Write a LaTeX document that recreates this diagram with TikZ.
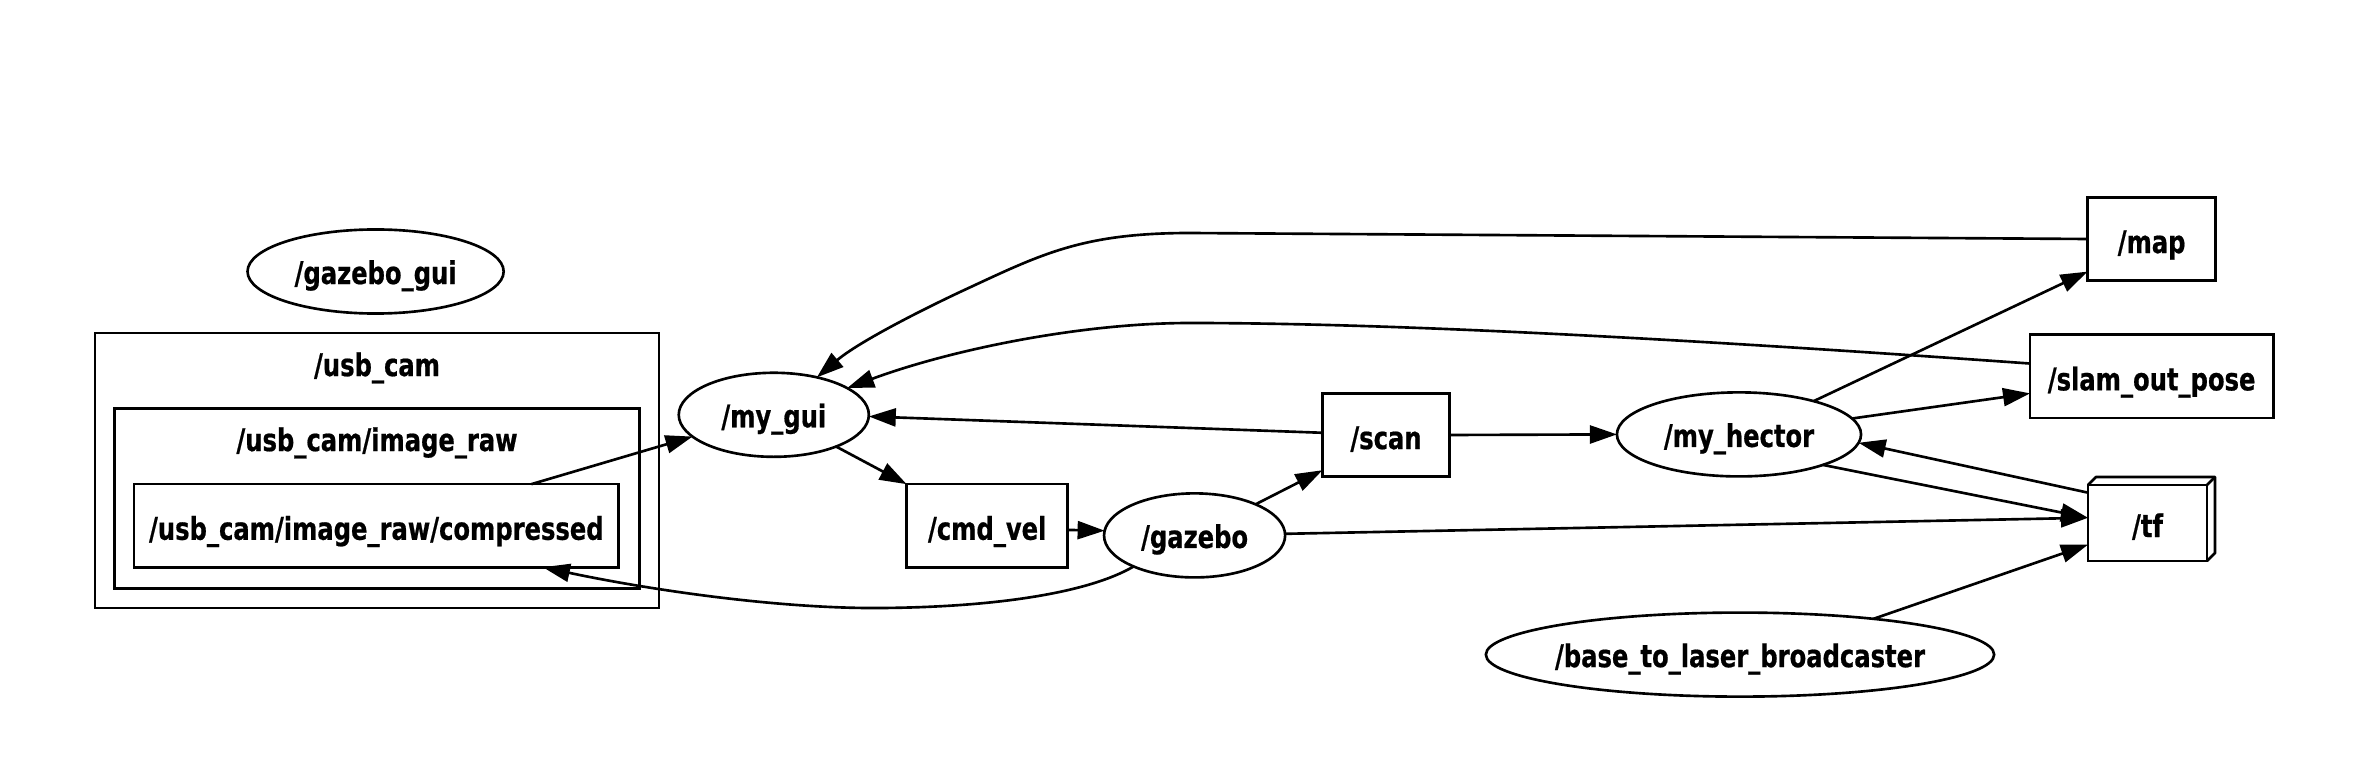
\documentclass[tikz,border=0pt]{standalone}
\usepackage{fontspec}
\setmainfont{DejaVu Sans Condensed}[FakeStretch=0.86,BoldFeatures={FakeBold=0.6}]
\usetikzlibrary{shapes.geometric,arrows.meta,calc}
\newcommand\ellipsetext[1]{\raisebox{-0.4em}[0pt][0pt]{\makebox[0pt]{#1}}}
\begin{document}
\begin{tikzpicture}[x=0.01cm,y=-0.01cm,
  font=\fontsize{8.9}{10}\selectfont\bfseries,
  every node/.style={inner sep=0pt, outer sep=0pt, text height=0.9em, text depth=0.1em},
  topic/.style={draw, line width=0.75pt, rectangle, minimum height=0.83cm},
  rosnode/.style={draw, line width=0.75pt, ellipse, minimum height=0.84cm, text height=0pt, text depth=0pt},
  cluster/.style={draw, line width=0.75pt, rectangle},
  conn/.style={line width=0.75pt, -{Triangle[length=0.27cm,width=0.18cm]}}
]
\fill[white] (0,0) rectangle (2365,782);
\useasboundingbox (0,0) rectangle (2365,782);

% clusters
\node[cluster, minimum width=5.64cm, minimum height=2.75cm] (usbcam) at (377,470.5) {};
\node (usbcamlbl) at (377,362) {/usb\_cam};
\node[cluster, minimum width=5.25cm, minimum height=1.795cm] (imageraw) at (377,498.5) {};
\node (imagerawlbl) at (377,437) {/usb\_cam/image\_raw};
\node[topic, minimum width=4.84cm] (compressed) at (376.3,525.7) {/usb\_cam/image\_raw/compressed};

% nodes
\node[rosnode, minimum width=2.56cm] (gazebogui) at (375.6,271.5) {\ellipsetext{/gazebo\_gui}};
\node[rosnode, minimum width=1.90cm] (mygui) at (773.8,414.8) {\ellipsetext{/my\_gui}};
\node[topic, minimum width=1.61cm] (cmdvel) at (987.2,525.7) {/cmd\_vel};
\node[rosnode, minimum width=1.81cm] (gazebo) at (1194.6,535.4) {\ellipsetext{/gazebo}};
\node[topic, minimum width=1.27cm] (scan) at (1386,435) {/scan};
\node[rosnode, minimum width=2.44cm] (myhector) at (1739,434.4) {\ellipsetext{/my\_hector}};
\node[topic, minimum width=1.28cm] (map) at (2151.6,239) {/map};
\node[topic, minimum width=2.43cm] (slam) at (2151.6,376.3) {/slam\_out\_pose};
\node[topic, minimum width=1.19cm, minimum height=0.76cm] (tf) at (2147.5,523) {/tf};
\draw[line width=0.75pt, line join=round] (tf.north west) -- ++(8,-8) -- ($(tf.north east)+(8,-8)$) -- ($(tf.south east)+(8,-8)$) -- (tf.south east);
\draw[line width=0.75pt] (tf.north east) -- ++(8,-8);
\node[rosnode, minimum width=5.08cm] (base) at (1740,654.6) {\ellipsetext{/base\_to\_laser\_broadcaster}};

% connectors
\draw[conn] (compressed.15) -- (mygui.195.9);
\draw[conn] (mygui.333.4) -- (cmdvel.north west);
\draw[conn] (cmdvel.-3.5) -- (gazebo.177.2);
\draw[conn] (gazebo.27.7) -- (scan.209.4);
\draw[conn] (gazebo.1.9) -- (tf.175);
\draw[conn] (gazebo.207.7) .. controls (1090,592) and (1000,607) .. (882,608)
   .. controls (780,609) and (650,590) .. (compressed.346.3);
\draw[conn] (scan.178.1) -- (mygui.-1.8);
\draw[conn] (scan.east) -- (myhector.west);
\draw[conn] (myhector.24.2) -- (map.207.9);
\draw[conn] (myhector.8.2) -- (slam.188.8);
\draw[conn] (myhector.340.7) -- (tf.175);
\draw[conn] (tf.153.7) -- (myhector.-4.2);
\draw[conn] (base.15.6) -- (tf.200);
\draw[conn] (map.west) -- (1190,233) .. controls (1080,233) and (1040,255) .. (960,292)
   .. controls (905,318) and (855,345) .. (mygui.41.3);
\draw[conn] (slam.174) .. controls (1700,340) and (1400,323) .. (1190,323)
   .. controls (1080,323) and (950,350) .. (mygui.20);
\end{tikzpicture}
\end{document}
